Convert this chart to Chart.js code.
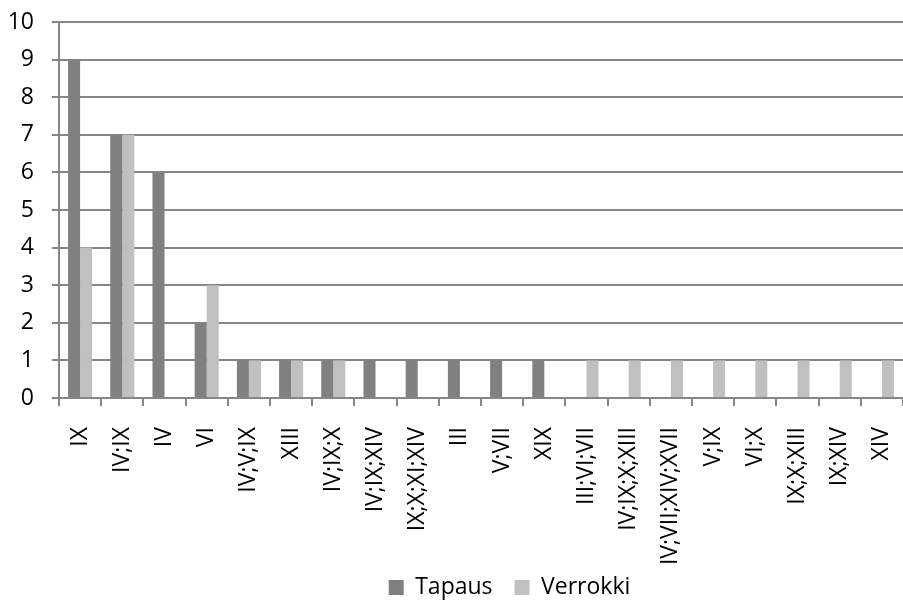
<!DOCTYPE html>
<html>
<head>
<meta charset="utf-8">
<script src="https://cdn.jsdelivr.net/npm/chart.js@4"></script>
<style>
  html, body { margin: 0; padding: 0; background: #fff; }
  #wrap { width: 903px; height: 600px; }
</style>
</head>
<body>
<div id="wrap"><canvas id="myChart" width="903" height="600"></canvas></div>
<script>
const categories = [
  'IX', 'IV;IX', 'IV', 'VI', 'IV;V;IX', 'XIII', 'IV;IX;X', 'IV;IX;XIV',
  'IX;X;XI;XIV', 'III', 'V;VII', 'XIX', 'III;VI;VII', 'IV;IX;X;XIII',
  'IV;VII;XIV;XVII', 'V;IX', 'VI;X', 'IX;X;XIII', 'IX;XIV', 'XIV',
];
const tapaus = [9, 7, 6, 2, 1, 1, 1, 1, 1, 1, 1, 1, 0, 0, 0, 0, 0, 0, 0, 0];
const verrokki = [4, 7, 0, 3, 1, 1, 1, 0, 0, 0, 0, 0, 1, 1, 1, 1, 1, 1, 1, 1];
const yTicks = [0, 1, 2, 3, 4, 5, 6, 7, 8, 9, 10];

const gridGray = '#868686';
const font = { family: "'Open Sans', 'DejaVu Sans', sans-serif", size: 23 };

// the x axis band is a fixed height; the legend row sits just below it
const xAxisHeight = 173;
const legendRowTop = 554;

// move the legend row right and place it under the axis labels
const legendShift = {
  id: 'legendShift',
  afterLayout(chart) {
    const lg = chart.legend;
    const dy = legendRowTop - lg.top;
    lg.left += 58;
    lg.right += 58;
    lg.top += dy;
    lg.bottom += dy;
  },
};

const ctx = document.getElementById('myChart');

new Chart(ctx, {
  type: 'bar',
  data: {
    labels: categories,
    datasets: [
      {
        label: 'Tapaus',
        data: tapaus,
        backgroundColor: '#808080',
        barPercentage: 1,
        categoryPercentage: 0.57,
      },
      {
        label: 'Verrokki',
        data: verrokki,
        backgroundColor: '#c0c0c0',
        barPercentage: 1,
        categoryPercentage: 0.57,
      },
    ],
  },
  options: {
    responsive: false,
    animation: false,
    // legend box is taller than the room it gets; it is moved after layout
    layout: { padding: { top: 22, right: 0, left: 0, bottom: -26 } },
    plugins: {
      legend: {
        position: 'bottom',
        labels: {
          color: '#000',
          font: font,
          boxWidth: 15,
          boxHeight: 15,
          padding: 22,
        },
      },
      tooltip: { enabled: false },
    },
    scales: {
      x: {
        afterFit: (axis) => {
          axis.paddingRight = 0;
          axis.height = xAxisHeight;
        },
        grid: {
          drawOnChartArea: false,
          drawTicks: true,
          tickLength: 8,
          color: gridGray,
          lineWidth: 2,
        },
        border: { color: gridGray, width: 2 },
        ticks: {
          color: '#000',
          font: font,
          minRotation: 90,
          maxRotation: 90,
          autoSkip: false,
          padding: 21,
        },
      },
      y: {
        min: 0,
        max: 10,
        afterBuildTicks: (axis) => {
          axis.ticks = yTicks.map((v) => ({ value: v }));
        },
        afterFit: (axis) => {
          axis.width = 59;
          axis.paddingTop = 0;
          axis.paddingBottom = 0;
        },
        grid: {
          color: gridGray,
          lineWidth: 2,
          tickLength: 7,
        },
        border: { color: gridGray, width: 2 },
        ticks: {
          color: '#000',
          font: font,
          padding: 18,
        },
      },
    },
  },
  plugins: [legendShift],
});
</script>
</body>
</html>
